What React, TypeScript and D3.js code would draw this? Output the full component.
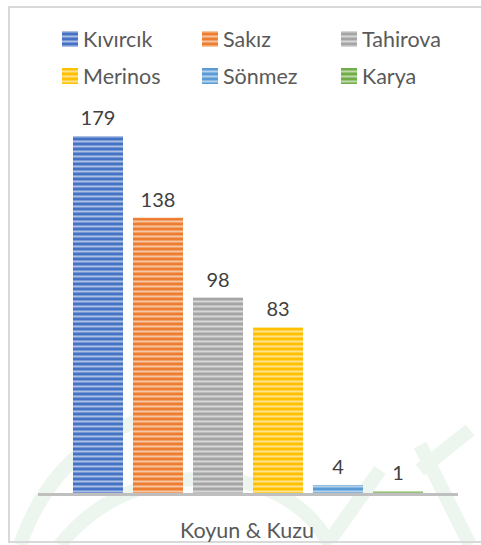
import React from "react";
import * as d3 from "d3";

const categories = ["Kıvırcık", "Sakız", "Tahirova", "Merinos", "Sönmez", "Karya"];
const values = [179, 138, 98, 83, 4, 1];
const colors = ["#4472C4", "#ED7D31", "#A5A5A5", "#FFC000", "#5B9BD5", "#70AD47"];
const axisTitle = "Koyun & Kuzu";

const W = 481;
const H = 545;
const FONT = "Lato, 'Open Sans', sans-serif";

export default function App() {
  const x = d3.scaleBand<string>().domain(categories).range([68, 428]).paddingInner(1 / 6).paddingOuter(1 / 12);
  const y = d3.scaleLinear().domain([0, 179]).range([493, 136]);
  const legendX = [62, 202, 341];
  const legendY = [39, 76];
  const lighten = (c: string, k: number) => d3.interpolateRgb(c, "#ffffff")(k);

  return (
    <svg width={W} height={H} style={{ position: "absolute", left: 0, top: 0 }}>
      <defs>
        {colors.map((c, i) => (
          <pattern key={i} id={`stripe${i}`} patternUnits="userSpaceOnUse" width={10} height={5}>
            <rect width={10} height={5} fill={c} />
            <rect y={0} width={10} height={1} fill={lighten(c, 0.3)} />
            <rect y={1} width={10} height={1.5} fill={lighten(c, 0.55)} />
            <rect y={2.5} width={10} height={0.5} fill={lighten(c, 0.25)} />
          </pattern>
        ))}
      </defs>
      <rect x={0} y={0} width={W} height={H} fill="#ffffff" />
      {/* faint watermark */}
      <g fill="none" stroke="#edf5ef" strokeWidth={14}>
        <path d="M 20 545 Q 60 430 180 410" />
        <path d="M 60 545 Q 120 470 230 480 Q 300 490 330 545" />
        <path d="M 330 540 L 380 470" />
        <path d="M 420 470 L 470 430" />
        <path d="M 420 445 L 470 545" />
      </g>
      <rect x={9} y={7} width={480} height={535} fill="none" stroke="#d9d9d9" strokeWidth={2} />
      {categories.map((c, i) => {
        const lx = legendX[i % 3];
        const ly = legendY[Math.floor(i / 3)];
        return (
          <g key={c}>
            <rect x={lx} y={ly - 8} width={16} height={16} fill={`url(#stripe${i})`} />
            <text x={lx + 21} y={ly} dominantBaseline="central" fontFamily={FONT} fontSize={21.5} fill="#595959">
              {c}
            </text>
          </g>
        );
      })}
      {categories.map((c, i) => (
        <g key={c}>
          <rect x={x(c)} y={y(values[i])} width={x.bandwidth()} height={y(0) - y(values[i])} fill={`url(#stripe${i})`} />
          <text
            x={(x(c) as number) + x.bandwidth() / 2}
            y={y(values[i]) - 11}
            textAnchor="middle"
            fontFamily={FONT}
            fontSize={20}
            fill="#404040"
          >
            {values[i]}
          </text>
        </g>
      ))}
      <line x1={38} x2={458} y1={494.5} y2={494.5} stroke="#bfbfbf" strokeWidth={3} />
      <text x={247} y={530} textAnchor="middle" dominantBaseline="central" fontFamily={FONT} fontSize={21.5} fill="#595959">
        {axisTitle}
      </text>
    </svg>
  );
}
